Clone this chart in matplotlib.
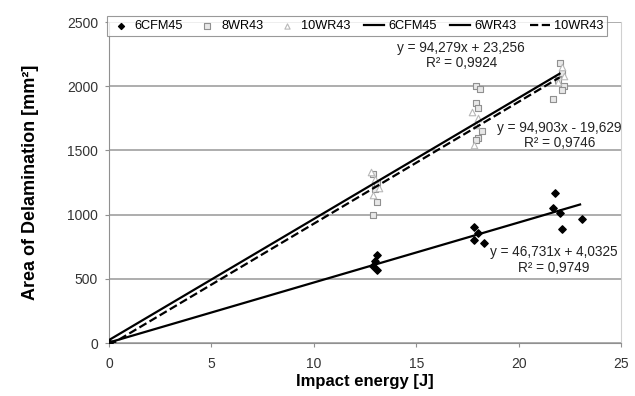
import matplotlib.pyplot as plt
import numpy as np

plt.rcParams['font.family'] = ['Liberation Sans', 'DejaVu Sans']

# measured points (energy [J], delamination area [mm2])
cfm45_x = [0, 13.1, 13.0, 12.9, 13.1, 17.8, 18.0, 17.8, 18.3, 21.8, 21.7, 22.0, 22.1, 23.1]
cfm45_y = [0, 685, 640, 600, 570, 903, 857, 802, 779, 1168, 1051, 1012, 888, 966]

wr8_x = [0, 12.9, 13.1, 13.0, 13.1, 12.9, 17.9, 18.1, 17.9, 18.0, 18.2, 18.0, 17.9, 22.0, 22.1, 21.9, 22.2, 22.1, 21.7]
wr8_y = [0, 1320, 1250, 1200, 1100, 1000, 2000, 1980, 1870, 1830, 1650, 1600, 1580, 2180, 2100, 2050, 2000, 1970, 1900]

wr10_x = [0, 12.8, 13.0, 13.2, 12.9, 17.7, 18.0, 17.9, 17.8, 22.1, 22.2, 21.9]
wr10_y = [0, 1330, 1280, 1210, 1150, 1800, 1750, 1700, 1540, 2150, 2080, 2030]

# trend lines from the chart
fit_labels = ['6CFM45', '6WR43', '10WR43']
fit_slope = [46.731, 94.279, 94.903]
fit_icpt = [4.0325, 23.256, -19.629]
fit_xmax = [23.0, 22.0, 22.0]
fit_text = ['y = 46,731x + 4,0325\nR² = 0,9749',
            'y = 94,279x + 23,256\nR² = 0,9924',
            'y = 94,903x - 19,629\nR² = 0,9746']

fig = plt.figure(figsize=(6.35, 3.96), dpi=100)
ax = fig.add_axes([0.1717, 0.1338, 0.8063, 0.8106])

ax.scatter(cfm45_x, cfm45_y, marker='D', s=14, color='black', label='6CFM45', zorder=4)
ax.scatter(wr8_x, wr8_y, marker='s', s=22, facecolor='#e8e8e8', edgecolor='#909090',
           linewidth=0.8, label='8WR43', zorder=3)
ax.scatter(wr10_x, wr10_y, marker='^', s=22, facecolor='white', edgecolor='#b8b8b8',
           linewidth=0.8, label='10WR43', zorder=3)

styles = ['-', '-', '--']
for lab, m, b, xm, ls in zip(fit_labels, fit_slope, fit_icpt, fit_xmax, styles):
    xs = np.array([0, xm])
    ax.plot(xs, m * xs + b, color='black', linestyle=ls, linewidth=1.6, label=lab, zorder=5)

tkw = dict(fontsize=9.8, ha='center', va='center', color='#222222', linespacing=1.15)
ax.text(21.7, 645, fit_text[0], **tkw)
ax.text(17.2, 2240, fit_text[1], **tkw)
ax.text(22.0, 1616, fit_text[2], **tkw)

ax.set_xlim(0, 25)
ax.set_ylim(0, 2500)
ax.set_xticks(range(0, 26, 5))
ax.set_yticks(range(0, 2501, 500))
ax.yaxis.grid(True, color='#a0a0a0', linewidth=1.2)
ax.set_axisbelow(True)
ax.spines['top'].set_visible(False)
ax.spines['right'].set_color('#d0d0d0')
ax.spines['left'].set_color('#909090')
ax.spines['bottom'].set_color('#909090')
ax.tick_params(labelsize=10, colors='#909090', labelcolor='#333333', length=3)
ax.tick_params(axis='x', pad=7)
ax.tick_params(axis='y', pad=5)

ax.set_xlabel('Impact energy [J]', fontsize=12, fontweight='bold', labelpad=2)
ax.set_ylabel('Area of Delamination [mm²]', fontsize=13, fontweight='bold', labelpad=20)

leg = fig.legend(loc='upper left', bbox_to_anchor=(0.158, 0.975), ncol=6, fontsize=9.2,
                 frameon=True, fancybox=False, edgecolor='#808080', handlelength=1.6,
                 handletextpad=0.3, columnspacing=1.05, borderpad=0.3, markerscale=0.8)
leg.get_frame().set_linewidth(0.8)

plt.savefig('out.png', dpi=100)
